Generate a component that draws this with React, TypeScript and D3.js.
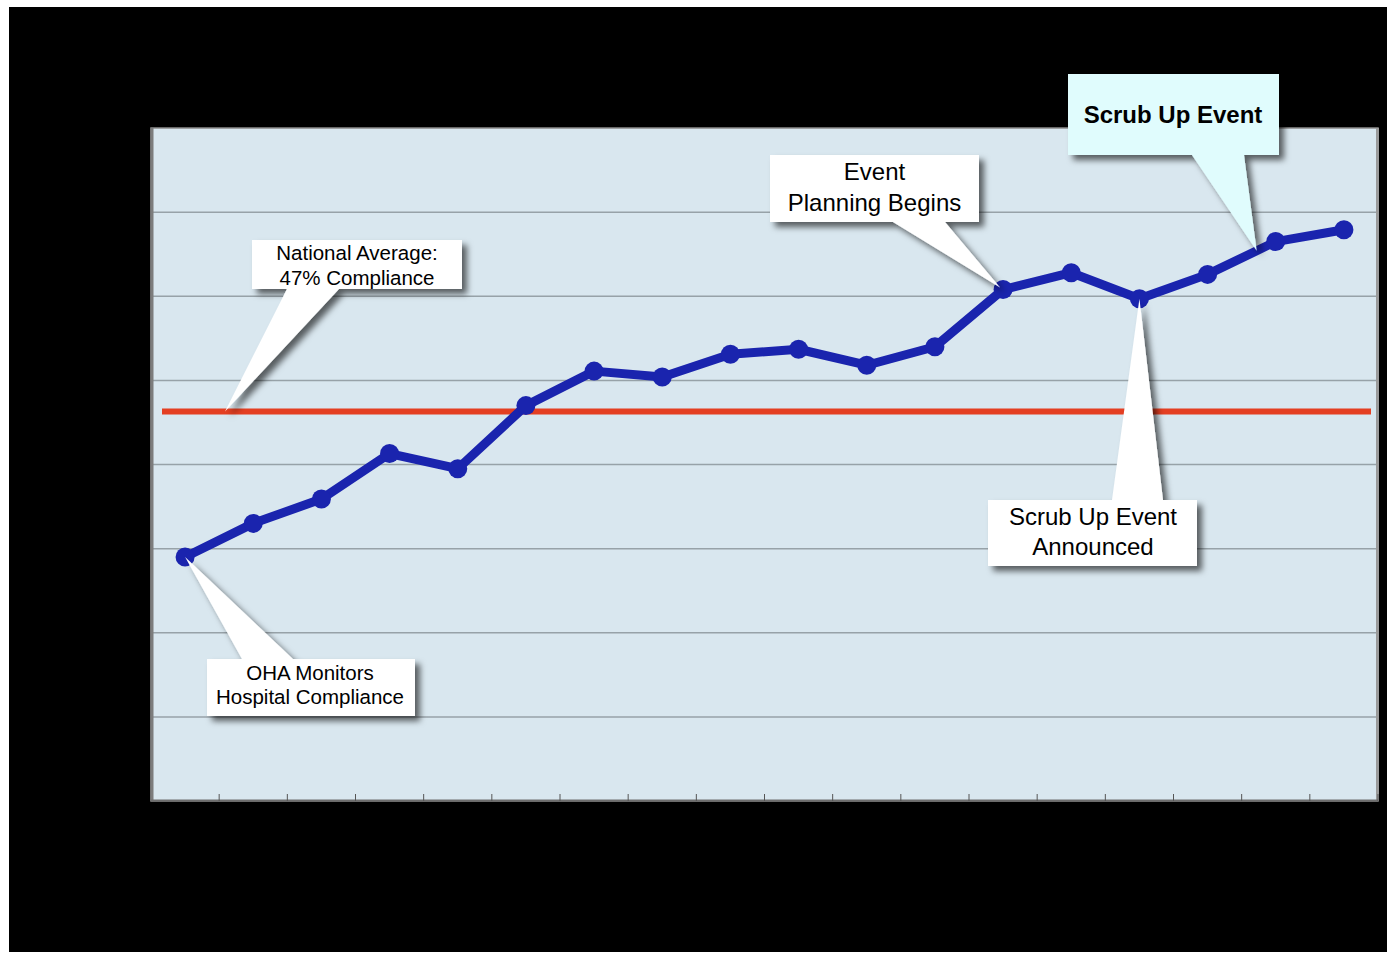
import React from "react";
import * as d3 from "d3";

// ---- data ----
const periods: string[] = [
  "P1", "P2", "P3", "P4", "P5", "P6", "P7", "P8", "P9",
  "P10", "P11", "P12", "P13", "P14", "P15", "P16", "P17", "P18",
];
const compliance: number[] = [
  29.0, 33.0, 35.9, 41.3, 39.5, 47.0, 51.1, 50.4, 53.1,
  53.7, 51.8, 54.0, 60.8, 62.8, 59.7, 62.6, 66.5, 67.9,
];
const nationalAverage = 46.3;
const yTicks: number[] = [0, 10, 20, 30, 40, 50, 60, 70, 80];

// callout texts
const calloutNational = ["National Average:", "47% Compliance"];
const calloutOHA = ["OHA Monitors", "Hospital Compliance"];
const calloutPlanning = ["Event", "Planning Begins"];
const calloutScrub = ["Scrub Up Event"];
const calloutAnnounced = ["Scrub Up Event", "Announced"];

const W = 1387;
const H = 954;
const plot = { left: 151, right: 1378, top: 128, bottom: 801 };

function calloutPathBottom(
  x0: number, y0: number, x1: number, y1: number,
  bl: number, br: number, tx: number, ty: number
) {
  return `M${x0},${y0}H${x1}V${y1}H${br}L${tx},${ty}L${bl},${y1}H${x0}Z`;
}
function calloutPathTop(
  x0: number, y0: number, x1: number, y1: number,
  bl: number, br: number, tx: number, ty: number
) {
  return `M${x0},${y0}H${bl}L${tx},${ty}L${br},${y0}H${x1}V${y1}H${x0}Z`;
}

export default function App() {
  React.useEffect(() => {
    document.body.style.margin = "0";
  }, []);

  const x = d3.scaleBand<string>().domain(periods).range([plot.left, plot.right]).padding(0);
  const y = d3.scaleLinear().domain([0, 80]).range([plot.bottom, plot.top]);
  const cx = (i: number) => (x(periods[i]) as number) + x.bandwidth() / 2;
  const cy = (i: number) => y(compliance[i]);

  const line = d3
    .line<number>()
    .x((_, i) => cx(i))
    .y((d) => y(d));

  const tickXs = periods.slice(1).map((p) => x(p) as number).concat([plot.right]);

  const natY = y(nationalAverage);

  const tipOHA = [cx(0), cy(0)];
  const tipPlanning = [cx(12) - 3, cy(12) - 2];
  const t = 0.72;
  const tipScrub = [cx(15) + (cx(16) - cx(15)) * t, cy(15) + (cy(16) - cy(15)) * t];
  const tipAnnounced = [cx(14), cy(14)];
  const tipNational = [225, natY];

  const font = "'Liberation Sans', Arial, Helvetica, sans-serif";

  return (
    <div style={{ position: "absolute", left: 0, top: 0 }}>
      <svg width={W} height={H} style={{ display: "block" }}>
        <defs>
          <filter id="shadow" x="-20%" y="-20%" width="150%" height="150%">
            <feDropShadow dx="5" dy="5" stdDeviation="3" floodColor="#000" floodOpacity="0.6" />
          </filter>
        </defs>
        <rect x={0} y={0} width={W} height={H} fill="#fff" />
        <rect x={9} y={7} width={W - 9} height={945} fill="#000" />

        {/* plot area */}
        <rect
          x={plot.left}
          y={plot.top}
          width={plot.right - plot.left}
          height={plot.bottom - plot.top}
          fill="#d9e7ef"
          stroke="#8c8c8c"
          strokeWidth={1.5}
        />
        {yTicks.slice(1, -1).map((v) => (
          <line
            key={v}
            x1={plot.left}
            x2={plot.right}
            y1={y(v)}
            y2={y(v)}
            stroke="#97a2a8"
            strokeWidth={1.5}
          />
        ))}
        <line x1={plot.left + 1} x2={plot.left + 1} y1={plot.top} y2={plot.bottom} stroke="#7c7c7c" strokeWidth={3} />
        <line x1={plot.right - 0.5} x2={plot.right - 0.5} y1={plot.top} y2={plot.bottom} stroke="#9a9a9a" strokeWidth={3} />
        <line x1={plot.left} x2={plot.right} y1={plot.bottom - 0.5} y2={plot.bottom - 0.5} stroke="#6e6e6e" strokeWidth={2} />
        {tickXs.map((tx, i) => (
          <line key={i} x1={tx} x2={tx} y1={plot.bottom - 7} y2={plot.bottom} stroke="#555" strokeWidth={1} />
        ))}

        {/* national average */}
        <line x1={162} x2={1371} y1={natY} y2={natY} stroke="#e43f22" strokeWidth={6} />

        {/* compliance series */}
        <path
          d={line(compliance) || ""}
          fill="none"
          stroke="#1a24ae"
          strokeWidth={9}
          strokeLinejoin="round"
        />
        {compliance.map((v, i) => (
          <circle key={i} cx={cx(i)} cy={y(v)} r={9.5} fill="#1a24ae" />
        ))}

        {/* callouts */}
        <g filter="url(#shadow)">
          <path d={calloutPathBottom(252, 240, 462, 289, 287, 339, tipNational[0], tipNational[1])} fill="#fff" />
          <path d={calloutPathTop(207, 659, 415, 716, 242, 293, tipOHA[0], tipOHA[1])} fill="#fff" />
          <path d={calloutPathBottom(770, 155, 979, 222, 893, 945, tipPlanning[0], tipPlanning[1])} fill="#fff" />
          <path d={calloutPathBottom(1068, 74, 1279, 155, 1192, 1244, tipScrub[0], tipScrub[1])} fill="#e0fcfd" />
          <path d={calloutPathTop(988, 500, 1197, 566, 1112, 1163, tipAnnounced[0], tipAnnounced[1])} fill="#fff" />
        </g>

        <g fontFamily={font} fill="#000" textAnchor="middle">
          {calloutNational.map((s, i) => (
            <text key={s} x={357} y={260 + i * 25} fontSize={20.5}>{s}</text>
          ))}
          {calloutOHA.map((s, i) => (
            <text key={s} x={310} y={680 + i * 24} fontSize={20.5}>{s}</text>
          ))}
          {calloutPlanning.map((s, i) => (
            <text key={s} x={874.5} y={180 + i * 31} fontSize={24}>{s}</text>
          ))}
          {calloutScrub.map((s) => (
            <text key={s} x={1173} y={123} fontSize={24} fontWeight="bold">{s}</text>
          ))}
          {calloutAnnounced.map((s, i) => (
            <text key={s} x={1093} y={525 + i * 30} fontSize={24}>{s}</text>
          ))}
        </g>
      </svg>
    </div>
  );
}
